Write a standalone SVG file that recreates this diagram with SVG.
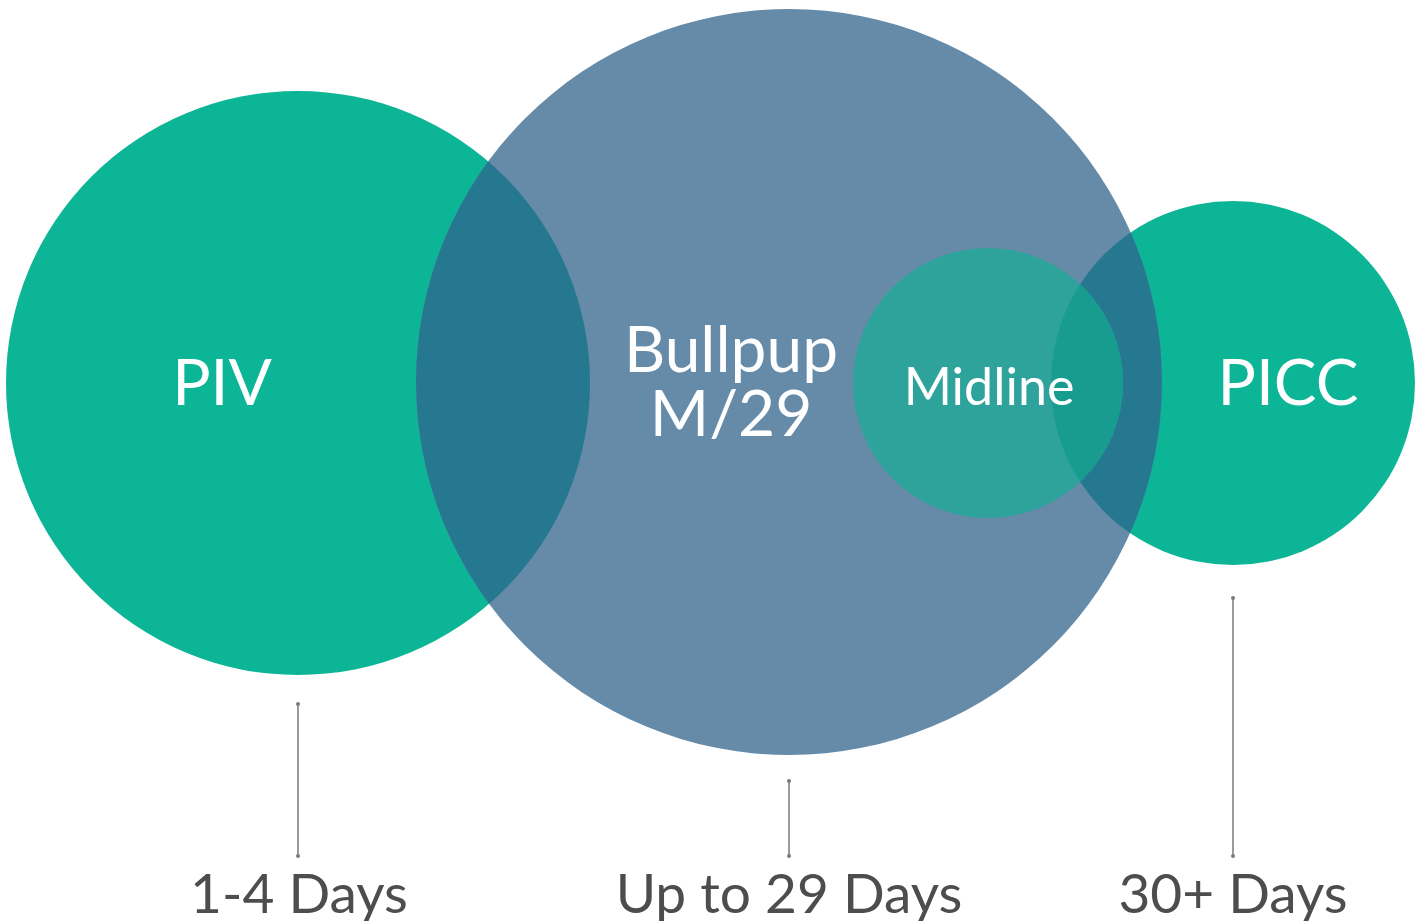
<svg xmlns="http://www.w3.org/2000/svg" width="1422" height="921" viewBox="0 0 1422 921">
<defs>
<style>
.lbl{font-family:Lato,"Open Sans","Liberation Sans",sans-serif;fill:#ffffff;text-anchor:middle}
.days{font-family:Lato,"Open Sans","Liberation Sans",sans-serif;fill:#4d4d4d;text-anchor:middle;font-size:55px}
.ln{stroke:#7a7a7a;stroke-width:1.5;fill:none}
.dot{fill:#7a7a7a}
</style>
<clipPath id="cPIV"><circle cx="298" cy="383" r="292"/></clipPath>
<clipPath id="cPICC"><circle cx="1233" cy="383" r="182"/></clipPath>
</defs>
<rect width="1422" height="921" fill="#ffffff"/>
<g id="piv">
<circle cx="298" cy="383" r="292" fill="#0db597"/>
</g>
<g id="picc">
<circle cx="1233" cy="383" r="182" fill="#0db597"/>
</g>
<g id="bullpup">
<circle cx="789" cy="382" r="373" fill="#668ba9"/>
<circle cx="789" cy="382" r="373" fill="#267890" clip-path="url(#cPIV)"/>
<circle cx="789" cy="382" r="373" fill="#267890" clip-path="url(#cPICC)"/>
</g>
<g id="midline">
<circle cx="988" cy="383" r="135" fill="#2ea39c"/>
<circle cx="988" cy="383" r="135" fill="#189c90" clip-path="url(#cPICC)"/>
</g>
<g id="labels">
<text class="lbl" x="222" y="405" font-size="64">PIV</text>
<text class="lbl" x="731" y="372" font-size="64">Bullpup</text>
<text class="lbl" x="731" y="436" font-size="64">M/29</text>
<text class="lbl" x="989" y="405" font-size="52">Midline</text>
<text class="lbl" x="1288" y="405" font-size="64">PICC</text>
</g>
<g id="connectors">
<line class="ln" x1="298" y1="704" x2="298" y2="856"/>
<circle class="dot" cx="298" cy="704" r="2"/>
<circle class="dot" cx="298" cy="856" r="2"/>
<line class="ln" x1="789" y1="781" x2="789" y2="856"/>
<circle class="dot" cx="789" cy="781" r="2"/>
<circle class="dot" cx="789" cy="856" r="2"/>
<line class="ln" x1="1233" y1="598" x2="1233" y2="856"/>
<circle class="dot" cx="1233" cy="598" r="2"/>
<circle class="dot" cx="1233" cy="856" r="2"/>
</g>
<g id="days">
<text class="days" x="299" y="913">1-4 Days</text>
<text class="days" x="789" y="913">Up to 29 Days</text>
<text class="days" x="1233" y="913">30+ Days</text>
</g>
</svg>
